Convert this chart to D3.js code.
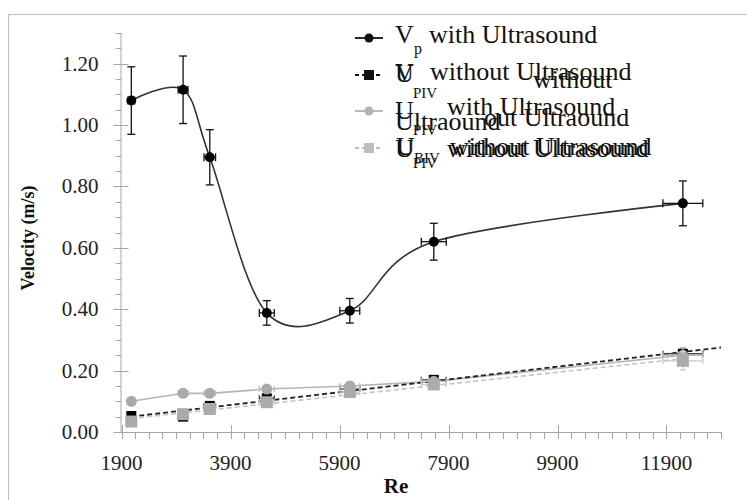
<!DOCTYPE html>
<html>
<head>
<meta charset="utf-8">
<script src="https://cdn.jsdelivr.net/npm/d3@7"></script>
<style>
  body { margin: 0; background: #fff; }
  svg { display: block; }
  svg text { font-family: "Liberation Serif", "Times New Roman", Times, Tinos, "Nimbus Roman", "Nimbus Roman No9 L", FreeSerif, "DejaVu Serif", "Noto Serif", serif; }
</style>
</head>
<body>
<svg id="chart" width="747" height="500"></svg>
<script>
// data
const re = [2080, 3030, 3520, 4566, 6089, 7630, 12200];
const reErr = [62, 91, 106, 137, 183, 229, 366];

const vpWith = [1.08, 1.115, 0.895, 0.388, 0.395, 0.62, 0.745];
const vpWithErr = [0.11, 0.11, 0.09, 0.04, 0.04, 0.06, 0.073];

const uBlack = [0.052, 0.05, 0.085, 0.11, 0.14, 0.17, 0.255];
const uBlackErr = [0.008, 0.008, 0.01, 0.01, 0.012, 0.012, 0.02];

const uGrayCircle = [0.10, 0.126, 0.126, 0.14, 0.15, 0.165, 0.25];
const uGrayCircleErr = [0.008, 0.008, 0.008, 0.01, 0.012, 0.012, 0.025];

const uGraySquare = [0.034, 0.058, 0.075, 0.097, 0.13, 0.155, 0.232];
const uGraySquareErr = [0.008, 0.008, 0.01, 0.01, 0.015, 0.015, 0.03];

const xTicks = [1900, 3900, 5900, 7900, 9900, 11900];
const yTicks = [0, 0.2, 0.4, 0.6, 0.8, 1.0, 1.2];

const svg = d3.select("#chart");

// outer frame of the chart (right / bottom sit off-picture)
svg.append("rect")
  .attr("x", 8.5).attr("y", 14.5)
  .attr("width", 800).attr("height", 600)
  .attr("fill", "none").attr("stroke", "#bdbdbd");

const x = d3.scaleLinear().domain([1900, 12900]).range([121.5, 721]);
const y = d3.scaleLinear().domain([0, 1.3]).range([432, 33]);

const axisColor = "#a6a6a6";
const gAxis = svg.append("g");

// x axis line + ticks
gAxis.append("line")
  .attr("x1", x(1900)).attr("x2", x(12900))
  .attr("y1", y(0) + 0.5).attr("y2", y(0) + 0.5)
  .attr("stroke", axisColor);
gAxis.selectAll(".xminor")
  .data(d3.range(1900, 12901, 250))
  .enter().append("line")
  .attr("x1", d => Math.round(x(d)) + 0.5).attr("x2", d => Math.round(x(d)) + 0.5)
  .attr("y1", y(0)).attr("y2", y(0) + 7)
  .attr("stroke", axisColor);
gAxis.selectAll(".xmajor")
  .data(xTicks)
  .enter().append("line")
  .attr("x1", d => Math.round(x(d)) + 0.5).attr("x2", d => Math.round(x(d)) + 0.5)
  .attr("y1", y(0) - 7).attr("y2", y(0) + 7)
  .attr("stroke", axisColor);
gAxis.selectAll(".xlabel")
  .data(xTicks)
  .enter().append("text")
  .attr("x", d => x(d)).attr("y", y(0) + 38)
  .attr("text-anchor", "middle")
  .attr("font-size", 21)
  .attr("fill", "#222")
  .text(d => d);

// y axis line + ticks
gAxis.append("line")
  .attr("x1", x(1900) - 0.5).attr("x2", x(1900) - 0.5)
  .attr("y1", y(0)).attr("y2", y(1.3))
  .attr("stroke", axisColor);
gAxis.selectAll(".yminor")
  .data(d3.range(0, 1.3001, 0.05))
  .enter().append("line")
  .attr("x1", x(1900) - 6).attr("x2", x(1900))
  .attr("y1", d => Math.round(y(d)) + 0.5).attr("y2", d => Math.round(y(d)) + 0.5)
  .attr("stroke", axisColor);
gAxis.selectAll(".ymajor")
  .data(yTicks)
  .enter().append("line")
  .attr("x1", x(1900) - 8).attr("x2", x(1900) + 7)
  .attr("y1", d => Math.round(y(d)) + 0.5).attr("y2", d => Math.round(y(d)) + 0.5)
  .attr("stroke", axisColor);
gAxis.selectAll(".ylabel")
  .data(yTicks)
  .enter().append("text")
  .attr("x", x(1900) - 23).attr("y", d => y(d) + 7)
  .attr("text-anchor", "end")
  .attr("font-size", 21)
  .attr("fill", "#222")
  .text(d => d3.format(".2f")(d));

// axis titles
svg.append("text")
  .attr("transform", "translate(34,238) rotate(-90)")
  .attr("text-anchor", "middle")
  .attr("font-size", 18).attr("font-weight", "bold")
  .attr("fill", "#111")
  .text("Velocity (m/s)");
svg.append("text")
  .attr("x", 396).attr("y", 493)
  .attr("text-anchor", "middle")
  .attr("font-size", 21).attr("font-weight", "bold")
  .attr("fill", "#111")
  .text("Re");

// linear trend helper
function trend(xs, ys) {
  const mx = d3.mean(xs), my = d3.mean(ys);
  const sxy = d3.sum(xs, (v, i) => (v - mx) * (ys[i] - my));
  const sxx = d3.sum(xs, v => (v - mx) * (v - mx));
  const b = sxy / sxx;
  return v => my + b * (v - mx);
}

const plot = svg.append("g");

// error bars
function errorBars(vals, errs, color, cap) {
  const g = plot.append("g").attr("stroke", color).attr("stroke-width", 1.3);
  re.forEach((r, i) => {
    const cx = x(r), cy = y(vals[i]);
    const y1 = y(vals[i] + errs[i]), y2 = y(vals[i] - errs[i]);
    const x1 = x(r - reErr[i]), x2 = x(r + reErr[i]);
    g.append("line").attr("x1", cx).attr("x2", cx).attr("y1", y1).attr("y2", y2);
    g.append("line").attr("x1", cx - cap).attr("x2", cx + cap).attr("y1", y1).attr("y2", y1);
    g.append("line").attr("x1", cx - cap).attr("x2", cx + cap).attr("y1", y2).attr("y2", y2);
    g.append("line").attr("x1", x1).attr("x2", x2).attr("y1", cy).attr("y2", cy);
    g.append("line").attr("x1", x1).attr("x2", x1).attr("y1", cy - cap).attr("y2", cy + cap);
    g.append("line").attr("x1", x2).attr("x2", x2).attr("y1", cy - cap).attr("y2", cy + cap);
  });
}

// gray squares (U_PIV without) - dashed trend
const tGray = trend(re, uGraySquare);
plot.append("path")
  .attr("d", d3.line()([[x(re[0]), y(tGray(re[0]))], [x(re[6]), y(tGray(re[6]))]]))
  .attr("stroke", "#c4c4c4").attr("stroke-width", 1.6)
  .attr("stroke-dasharray", "5,3").attr("fill", "none");

// gray circles (U_PIV with) - solid line
const straight = d3.line().x((d, i) => x(re[i])).y(d => y(d));
plot.append("path")
  .attr("d", straight(uGrayCircle))
  .attr("stroke", "#b5b5b5").attr("stroke-width", 1.6).attr("fill", "none");

// black squares - dashed trend extended to axis end
const tBlack = trend(re, uBlack);
plot.append("path")
  .attr("d", d3.line()([[x(re[0]), y(tBlack(re[0]))], [x(12900), y(tBlack(12900))]]))
  .attr("stroke", "#222").attr("stroke-width", 1.8)
  .attr("stroke-dasharray", "5,3").attr("fill", "none");

errorBars(uBlack, uBlackErr, "#444", 3);
plot.selectAll(".sqb").data(uBlack).enter().append("rect")
  .attr("x", (d, i) => x(re[i]) - 5).attr("y", d => y(d) - 5)
  .attr("width", 10).attr("height", 10).attr("fill", "#000");

errorBars(uGrayCircle, uGrayCircleErr, "#bcbcbc", 3);
plot.selectAll(".cg").data(uGrayCircle).enter().append("circle")
  .attr("cx", (d, i) => x(re[i])).attr("cy", d => y(d))
  .attr("r", 5.5).attr("fill", "#a9a9a9");

errorBars(uGraySquare, uGraySquareErr, "#c8c8c8", 3);
plot.selectAll(".sqg").data(uGraySquare).enter().append("rect")
  .attr("x", (d, i) => x(re[i]) - 6).attr("y", d => y(d) - 6)
  .attr("width", 12).attr("height", 12).attr("fill", "#ababab");

// Vp with ultrasound - smoothed line
const smooth = d3.line().x((d, i) => x(re[i])).y(d => y(d)).curve(d3.curveCardinal.tension(0));
plot.append("path")
  .attr("d", smooth(vpWith))
  .attr("stroke", "#333").attr("stroke-width", 1.6).attr("fill", "none");
errorBars(vpWith, vpWithErr, "#111", 4);
plot.selectAll(".vp").data(vpWith).enter().append("circle")
  .attr("cx", (d, i) => x(re[i])).attr("cy", d => y(d))
  .attr("r", 5).attr("fill", "#000");

// legend (text overlaps as in the source picture)
const leg = svg.append("g").attr("fill", "#111");
function legMarker(yy, color, dash, shape) {
  leg.append("line").attr("x1", 355).attr("x2", 383).attr("y1", yy).attr("y2", yy)
    .attr("stroke", color).attr("stroke-width", 1.8).attr("stroke-dasharray", dash);
  if (shape === "circle") {
    leg.append("circle").attr("cx", 369).attr("cy", yy).attr("r", 4.5).attr("fill", color);
  } else {
    leg.append("rect").attr("x", 364).attr("y", yy - 5).attr("width", 10).attr("height", 10).attr("fill", color);
  }
}
function t(xx, yy, size, s) {
  leg.append("text").attr("x", xx).attr("y", yy).attr("font-size", size).text(s);
}
legMarker(38, "#111", null, "circle");
legMarker(75, "#111", "4,3", "square");
legMarker(111, "#b3b3b3", null, "circle");
legMarker(148, "#bdbdbd", "4,3", "square");

// row 1
t(395, 43, 26, "V"); t(414, 54, 16, "p"); t(429, 43, 26, "with Ultrasound");
// row 2
t(395, 81, 26, "V"); t(395, 82, 26, "U"); t(413, 98, 15, "PIV");
t(430, 80, 26, "without Ultrasound"); t(533, 88, 26, "without");
// row 3
t(395, 119, 26, "U"); t(413, 135, 15, "PIV"); t(447, 115, 26, "with Ultrasound");
t(395, 130, 26, "Ultraound"); t(484, 126, 26, "out Ultraound");
// row 4
t(395, 157, 26, "U"); t(396, 155, 26, "U"); t(413, 168, 15, "PIV"); t(414, 163, 15, "BIV");
t(447, 157, 26, "without Ultrasound"); t(450, 155, 26, "without Ultrasound");
</script>
</body>
</html>
